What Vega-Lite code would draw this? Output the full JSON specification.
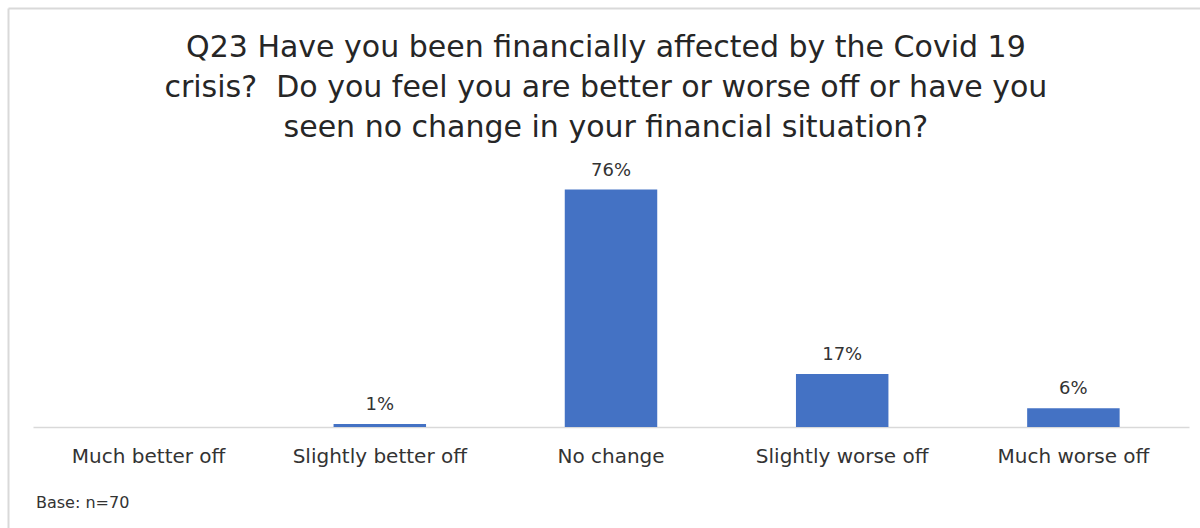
{
  "$schema": "https://vega.github.io/schema/vega-lite/v6.json",
  "width": 1156,
  "height": 250,
  "autosize": {"type": "none"},
  "padding": {"left": 33, "right": 11, "top": 177, "bottom": 101},
  "background": "white",
  "config": {"view": {"stroke": null}, "font": "DejaVu Sans"},
  "data": {"values": [
    {"answer": "Much better off", "share": 0},
    {"answer": "Slightly better off", "share": 0.01},
    {"answer": "No change", "share": 0.76},
    {"answer": "Slightly worse off", "share": 0.17},
    {"answer": "Much worse off", "share": 0.06}
  ]},
  "layer": [
    {
      "mark": {"type": "bar", "color": "#4472C4"},
      "encoding": {
        "x": {"field": "answer", "type": "nominal", "sort": null,
          "scale": {"domain": ["Much better off", "Slightly better off", "No change", "Slightly worse off", "Much worse off"], "paddingInner": 0.6, "paddingOuter": 0.3},
          "axis": {"title": null, "ticks": false, "labelAngle": 0, "labelFontSize": 20, "labelColor": "#333333", "labelPadding": 19, "domainColor": "#d9d9d9", "domainWidth": 1.5, "labelFont": "DejaVu Sans"}},
        "y": {"field": "share", "type": "quantitative", "scale": {"domain": [0, 0.8], "nice": false, "zero": false}, "axis": null}
      }
    },
    {
      "mark": {"type": "text", "baseline": "alphabetic", "dy": -14, "fontSize": 18, "color": "#333333"},
      "encoding": {
        "x": {"field": "answer", "type": "nominal", "sort": null,
          "scale": {"domain": ["Much better off", "Slightly better off", "No change", "Slightly worse off", "Much worse off"], "paddingInner": 0.6, "paddingOuter": 0.3}, "axis": null},
        "y": {"field": "share", "type": "quantitative", "axis": null},
        "text": {"field": "share", "type": "quantitative", "format": ".0%"},
        "opacity": {"condition": {"test": "datum.share > 0", "value": 1}, "value": 0}
      }
    },
    {
      "data": {"values": [{}]},
      "mark": {"type": "rule", "color": "#d9d9d9", "strokeWidth": 2},
      "encoding": {
        "x": {"datum": -0.106, "type": "quantitative", "scale": {"domain": [0, 5], "nice": false, "zero": false}, "axis": null},
        "x2": {"datum": 5.112},
        "y": {"datum": 1.3392, "type": "quantitative", "axis": null}
      }
    },
    {
      "data": {"values": [{}]},
      "mark": {"type": "rule", "color": "#d9d9d9", "strokeWidth": 2},
      "encoding": {
        "x": {"datum": -0.106, "type": "quantitative", "scale": {"domain": [0, 5], "nice": false, "zero": false}, "axis": null},
        "y": {"datum": 1.3392, "type": "quantitative", "axis": null},
        "y2": {"datum": -0.3776}
      }
    },
    {
      "data": {"values": [{"title": "Q23 Have you been financially affected by the Covid 19\ncrisis?\u00a0 Do you feel you are better or worse off or have you\nseen no change in your financial situation?"}]},
      "mark": {"type": "text", "lineBreak": "\n", "lineHeight": 40, "fontSize": 30, "align": "center", "baseline": "alphabetic", "color": "#262626"},
      "encoding": {
        "x": {"datum": 2.478, "type": "quantitative", "scale": {"domain": [0, 5], "nice": false, "zero": false}, "axis": null},
        "y": {"datum": 1.184, "type": "quantitative", "axis": null},
        "text": {"field": "title"}
      }
    },
    {
      "data": {"values": [{"note": "Base: n=70"}]},
      "mark": {"type": "text", "fontSize": 16, "align": "left", "baseline": "middle", "color": "#333333"},
      "encoding": {
        "x": {"datum": 0.013, "type": "quantitative", "scale": {"domain": [0, 5], "nice": false, "zero": false}, "axis": null},
        "y": {"datum": -0.2432, "type": "quantitative", "axis": null},
        "text": {"field": "note"}
      }
    }
  ],
  "resolve": {"scale": {"x": "independent"}}
}
